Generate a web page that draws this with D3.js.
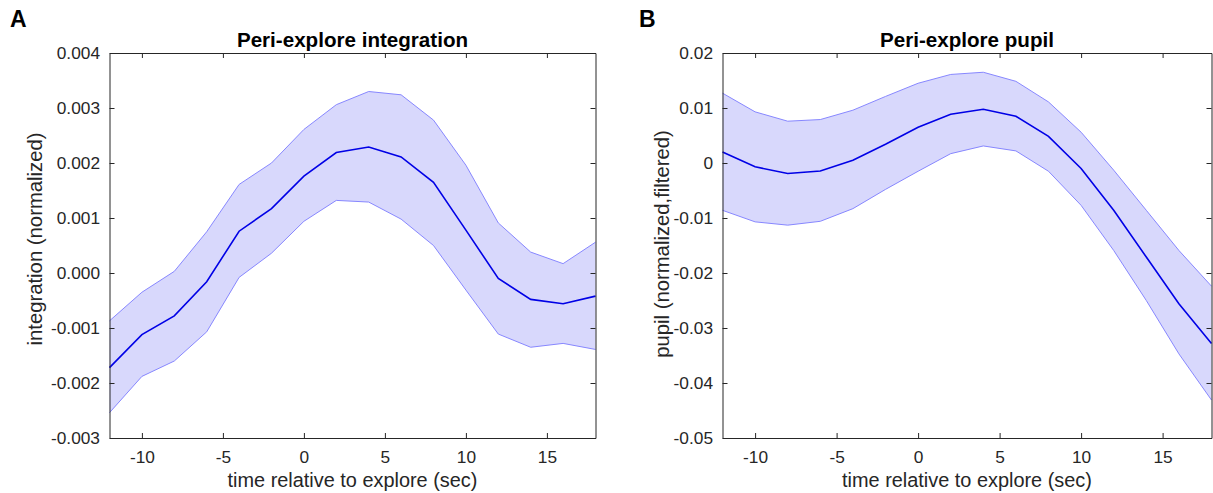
<!DOCTYPE html>
<html>
<head>
<meta charset="utf-8">
<script src="https://cdn.jsdelivr.net/npm/d3@7"></script>
<style>
  html, body { margin: 0; padding: 0; background: #fff; }
  svg { display: block; }
  text { font-family: "Liberation Sans", Arial, Helvetica, sans-serif; }
</style>
</head>
<body>
<svg id="chart" width="1213" height="493"></svg>
<script>
// ---- data ----
const time = [-12, -10, -8, -6, -4, -2, 0, 2, 4, 6, 8, 10, 12, 14, 16, 18];

const integMean  = [-0.00172, -0.00112, -0.00078, -0.00016, 0.00076, 0.00117, 0.00176, 0.00219, 0.00229, 0.00211, 0.00165, 0.00078, -0.00010, -0.00048, -0.00056, -0.00042];
const integUpper = [-0.00087, -0.00035, 0.00003, 0.00075, 0.00161, 0.00200, 0.00261, 0.00306, 0.00330, 0.00324, 0.00278, 0.00196, 0.00091, 0.00038, 0.00017, 0.00056];
const integLower = [-0.00254, -0.00188, -0.00160, -0.00107, -0.00008, 0.00036, 0.00094, 0.00132, 0.00129, 0.00098, 0.00050, -0.00031, -0.00111, -0.00135, -0.00128, -0.00139];

const pupilMean  = [0.0020, -0.0007, -0.0019, -0.00145, 0.0005, 0.0034, 0.0065, 0.00885, 0.00976, 0.0085, 0.00485, -0.0010, -0.0086, -0.0171, -0.0256, -0.0328];
const pupilUpper = [0.0127, 0.0093, 0.0076, 0.0079, 0.0096, 0.0121, 0.0145, 0.0161, 0.0165, 0.01485, 0.0111, 0.0056, -0.0013, -0.0086, -0.0159, -0.0224];
const pupilLower = [-0.0086, -0.0107, -0.0113, -0.0106, -0.0083, -0.0048, -0.0015, 0.0017, 0.0031, 0.0022, -0.0015, -0.0077, -0.0159, -0.0250, -0.0347, -0.0431];

const xTicks = [-10, -5, 0, 5, 10, 15];
const xTickLabels = ["-10", "-5", "0", "5", "10", "15"];
const integTicks = [-0.003, -0.002, -0.001, 0, 0.001, 0.002, 0.003, 0.004];
const integTickLabels = ["-0.003", "-0.002", "-0.001", "0.000", "0.001", "0.002", "0.003", "0.004"];
const pupilTicks = [-0.05, -0.04, -0.03, -0.02, -0.01, 0, 0.01, 0.02];
const pupilTickLabels = ["-0.05", "-0.04", "-0.03", "-0.02", "-0.01", "0", "0.01", "0.02"];

const panels = [
  { letter: "A", title: "Peri-explore integration", ylabel: "integration (normalized)",
    mean: integMean, upper: integUpper, lower: integLower,
    yDomain: [-0.003, 0.004], yTicks: integTicks, yTickLabels: integTickLabels,
    left: 109.5, right: 595.5, top: 53, bottom: 438, letterX: 10, ylabelX: 42, ylabelY: 239 },
  { letter: "B", title: "Peri-explore pupil", ylabel: "pupil (normalized,filtered)",
    mean: pupilMean, upper: pupilUpper, lower: pupilLower,
    yDomain: [-0.05, 0.02], yTicks: pupilTicks, yTickLabels: pupilTickLabels,
    left: 722.5, right: 1211.5, top: 53, bottom: 438, letterX: 639, ylabelX: 669, ylabelY: 244 }
];

const svg = d3.select("#chart");
const axisColor = "#262626";
const FONT = '"Liberation Sans", Arial, Helvetica, sans-serif';

panels.forEach(p => {
  const x = d3.scaleLinear().domain([-12, 18]).range([p.left, p.right]);
  const y = d3.scaleLinear().domain(p.yDomain).range([p.bottom, p.top]);
  const g = svg.append("g");

  const rows = time.map((t, i) => ({ t, m: p.mean[i], u: p.upper[i], l: p.lower[i] }));

  // shaded band
  g.append("path")
    .datum(rows)
    .attr("d", d3.area().x(d => x(d.t)).y0(d => y(d.l)).y1(d => y(d.u)))
    .attr("fill", "rgb(216,216,252)")
    .attr("stroke", "none");
  ["u", "l"].forEach(k => {
    g.append("path")
      .datum(rows)
      .attr("d", d3.line().x(d => x(d.t)).y(d => y(d[k])))
      .attr("fill", "none")
      .attr("stroke", "rgb(135,135,255)")
      .attr("stroke-width", 1);
  });
  // mean line
  g.append("path")
    .datum(rows)
    .attr("d", d3.line().x(d => x(d.t)).y(d => y(d.m)))
    .attr("fill", "none")
    .attr("stroke", "#0000e6")
    .attr("stroke-width", 1.6);

  // axes with inward ticks and a full box
  const tickLen = 5;
  const fmtY = v => p.yTickLabels[p.yTicks.indexOf(v)];
  const fmtX = v => xTickLabels[xTicks.indexOf(v)];
  const bottomAx = g.append("g").attr("transform", `translate(0,${p.bottom})`)
    .call(d3.axisBottom(x).tickValues(xTicks).tickSizeInner(-tickLen).tickSizeOuter(0).tickPadding(13).tickFormat(fmtX));
  const topAx = g.append("g").attr("transform", `translate(0,${p.top})`)
    .call(d3.axisTop(x).tickValues(xTicks).tickSizeInner(-tickLen).tickSizeOuter(0).tickFormat(""));
  const leftAx = g.append("g").attr("transform", `translate(${p.left},0)`)
    .call(d3.axisLeft(y).tickValues(p.yTicks).tickSizeInner(-tickLen).tickSizeOuter(0).tickPadding(9.5).tickFormat(fmtY));
  const rightAx = g.append("g").attr("transform", `translate(${p.right},0)`)
    .call(d3.axisRight(y).tickValues(p.yTicks).tickSizeInner(-tickLen).tickSizeOuter(0).tickFormat(""));

  [bottomAx, topAx, leftAx, rightAx].forEach(a => {
    a.attr("font-size", 17.3).attr("font-family", FONT);
    a.select(".domain").attr("stroke", axisColor).attr("stroke-width", 1);
    a.selectAll(".tick line").attr("stroke", axisColor).attr("stroke-width", 1);
    a.selectAll(".tick text").attr("fill", axisColor).attr("font-size", 17.3);
  });
  bottomAx.selectAll(".tick text").attr("dy", "0.71em");

  // title
  g.append("text")
    .attr("x", (p.left + p.right) / 2).attr("y", 47)
    .attr("text-anchor", "middle")
    .attr("font-size", 20.6).attr("font-weight", "bold").attr("fill", "#000")
    .text(p.title);
  // x label
  g.append("text")
    .attr("x", (p.left + p.right) / 2).attr("y", 486.5)
    .attr("text-anchor", "middle")
    .attr("font-size", 19.9).attr("fill", axisColor)
    .text("time relative to explore (sec)");
  // y label
  g.append("text")
    .attr("transform", `translate(${p.ylabelX},${p.ylabelY}) rotate(-90)`)
    .attr("text-anchor", "middle")
    .attr("font-size", 20.3).attr("fill", axisColor)
    .text(p.ylabel);
  // panel letter
  g.append("text")
    .attr("x", p.letterX).attr("y", 26.7)
    .attr("font-size", 23).attr("font-weight", "bold").attr("fill", "#000")
    .text(p.letter);
});
</script>
</body>
</html>
